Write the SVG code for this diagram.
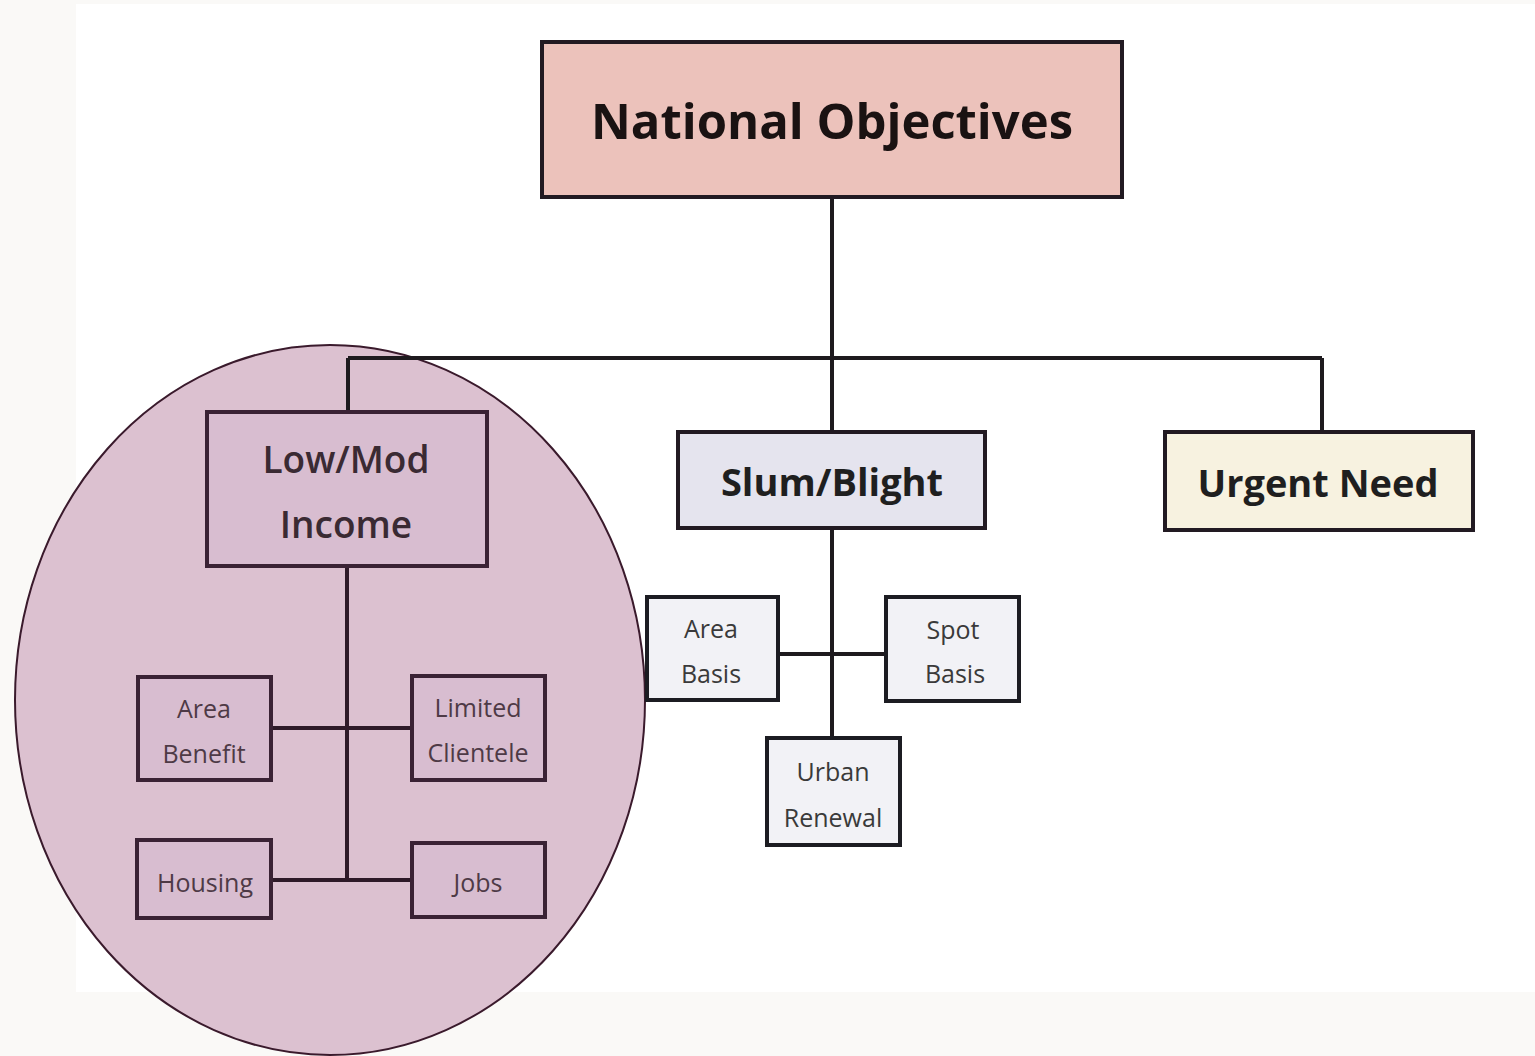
<svg xmlns="http://www.w3.org/2000/svg" width="1535" height="1056" viewBox="0 0 1535 1056">
<style>
.lbl{font-family:"Open Sans","Liberation Sans",sans-serif;text-anchor:middle}
.big{font-size:49px;font-weight:bold;fill:#1a1212}
.mid{font-size:38px;font-weight:bold;fill:#1f1f1f}
.lm{font-size:37px;font-weight:600;fill:#3a2a33}
.sm{font-size:25px;fill:#3a3a3a}
.smp{font-size:25px;fill:#4e3a46}
.box{stroke:#221a22;stroke-width:4}
.pbox{fill:#d8bdd0;stroke:#3a2234;stroke-width:4}
.wbox{fill:#f2f2f6;stroke:#1c1c22;stroke-width:4}
.conn{fill:none;stroke:#1e1a1e;stroke-width:4}
.pconn{fill:none;stroke:#2e1a28;stroke-width:4}
</style>
<rect x="0" y="0" width="1535" height="1056" fill="#faf9f7"/>
<rect x="76" y="4" width="1459" height="988" fill="#ffffff"/>
<ellipse cx="330" cy="700" rx="315" ry="355" fill="#dcc1d0" stroke="#3a1a2c" stroke-width="2"/>
<g id="connectors">
<path class="conn" d="M832 197V358M348 358H1322M348 358V412M832 358V432M1322 358V432"/>
<path class="pconn" d="M347 566V880M271 728H412M271 880H412"/>
<path class="conn" d="M832 528V738M778 654H886"/>
</g>
<g id="national">
<rect class="box" x="542" y="42" width="580" height="155" fill="#ecc2bb"/>
<text class="lbl big" x="832" y="139">National Objectives</text>
</g>
<g id="lowmod">
<rect class="pbox" x="207" y="412" width="280" height="154" fill="#d5b5cb"/>
<text class="lbl lm" x="346" y="473">Low/Mod</text>
<text class="lbl lm" x="346" y="538">Income</text>
</g>
<g id="slum">
<rect class="box" x="678" y="432" width="307" height="96" fill="#e5e4ee"/>
<text class="lbl mid" x="832" y="496">Slum/Blight</text>
</g>
<g id="urgent">
<rect class="box" x="1165" y="432" width="308" height="98" fill="#f7f2e0"/>
<text class="lbl mid" x="1318" y="497">Urgent Need</text>
</g>
<g id="areabenefit">
<rect class="pbox" x="138" y="677" width="133" height="103"/>
<text class="lbl smp" x="204" y="718">Area</text>
<text class="lbl smp" x="204" y="763">Benefit</text>
</g>
<g id="limited">
<rect class="pbox" x="412" y="676" width="133" height="104"/>
<text class="lbl smp" x="478" y="717">Limited</text>
<text class="lbl smp" x="478" y="762">Clientele</text>
</g>
<g id="housing">
<rect class="pbox" x="137" y="840" width="134" height="78"/>
<text class="lbl smp" x="205" y="892">Housing</text>
</g>
<g id="jobs">
<rect class="pbox" x="412" y="843" width="133" height="74"/>
<text class="lbl smp" x="478" y="892">Jobs</text>
</g>
<g id="areabasis">
<rect class="wbox" x="647" y="597" width="131" height="103"/>
<text class="lbl sm" x="711" y="638">Area</text>
<text class="lbl sm" x="711" y="683">Basis</text>
</g>
<g id="spotbasis">
<rect class="wbox" x="886" y="597" width="133" height="104"/>
<text class="lbl sm" x="953" y="639">Spot</text>
<text class="lbl sm" x="955" y="683">Basis</text>
</g>
<g id="urban">
<rect class="wbox" x="767" y="738" width="133" height="107"/>
<text class="lbl sm" x="833" y="781">Urban</text>
<text class="lbl sm" x="833" y="827">Renewal</text>
</g>
</svg>
